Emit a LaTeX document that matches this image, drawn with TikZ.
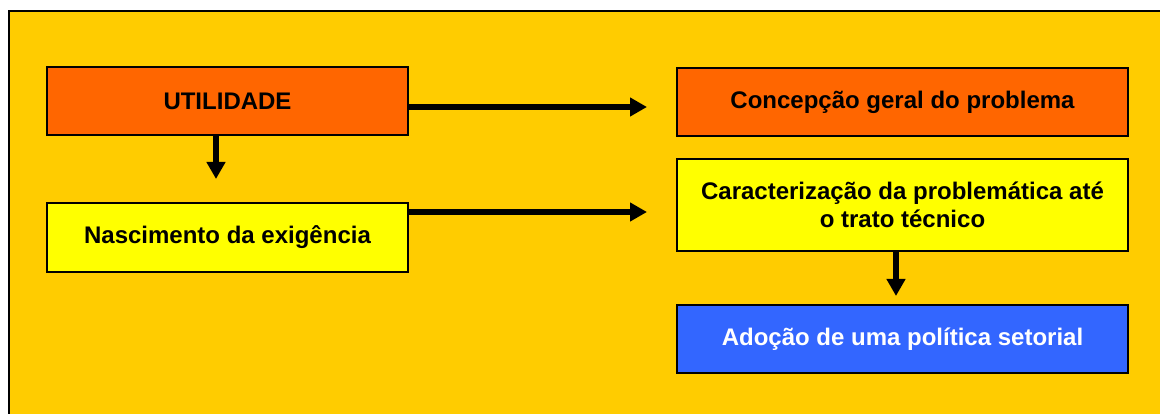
\documentclass[tikz,border=0pt]{standalone}
\usepackage{fontspec}
\setmainfont{Liberation Sans}
\usetikzlibrary{arrows.meta,positioning}
\definecolor{bgyellow}{HTML}{FFCC00}
\definecolor{boxorange}{HTML}{FF6600}
\definecolor{boxyellow}{HTML}{FFFF00}
\definecolor{boxblue}{HTML}{3366FF}
\tikzset{
  box/.style={draw=black, line width=2pt, minimum height=68pt,
    inner sep=0pt, align=center,
    font=\fontsize{24}{28}\selectfont\bfseries},
  leftbox/.style={box, minimum width=361pt},
  rightbox/.style={box, minimum width=451pt},
  arr/.style={line width=6pt, -{Triangle[length=17pt,width=18pt]}}
}
\begin{document}
\begin{tikzpicture}[x=1pt,y=1pt]
  \useasboundingbox (0,0) rectangle (1160,-414);
  % page frame, running off the right and bottom edges
  \fill[white] (0,0) rectangle (1160,-414);
  \draw[fill=bgyellow, line width=2pt] (9,-450) |- (1200,-11);
  \fill[bgyellow] (10,-12) rectangle (1165,-420);

  % boxes
  \node[leftbox, fill=boxorange] (u) at (227.5,-101) {UTILIDADE};
  \node[leftbox, minimum height=69pt, fill=boxyellow] (n) at (227.5,-237.5) {Nascimento da exigência};
  \node[rightbox, fill=boxorange] (c) at (902.5,-102) {Concepção geral do problema};
  \node[rightbox, minimum height=92pt, fill=boxyellow] (t) at (902.5,-205)
    {Caracterização da problemática até\\o trato técnico};
  \node[rightbox, fill=boxblue, text=white] (a) at (902.5,-339) {Adoção de uma política setorial};

  % connectors
  \draw[arr] ([yshift=-6pt]u.east) -- ([xshift=-29pt,yshift=-5pt]c.west);
  \draw[arr] ([yshift=-10pt]n.north east) -- ([xshift=-29pt,yshift=-54pt]t.north west);
  \draw[arr] ([xshift=-11.5pt]u.south) -- ([xshift=-11.5pt,yshift=23pt]n.north);
  \draw[arr] ([xshift=-6.5pt]t.south) -- ([xshift=-6.5pt,yshift=8pt]a.north);
\end{tikzpicture}
\end{document}
